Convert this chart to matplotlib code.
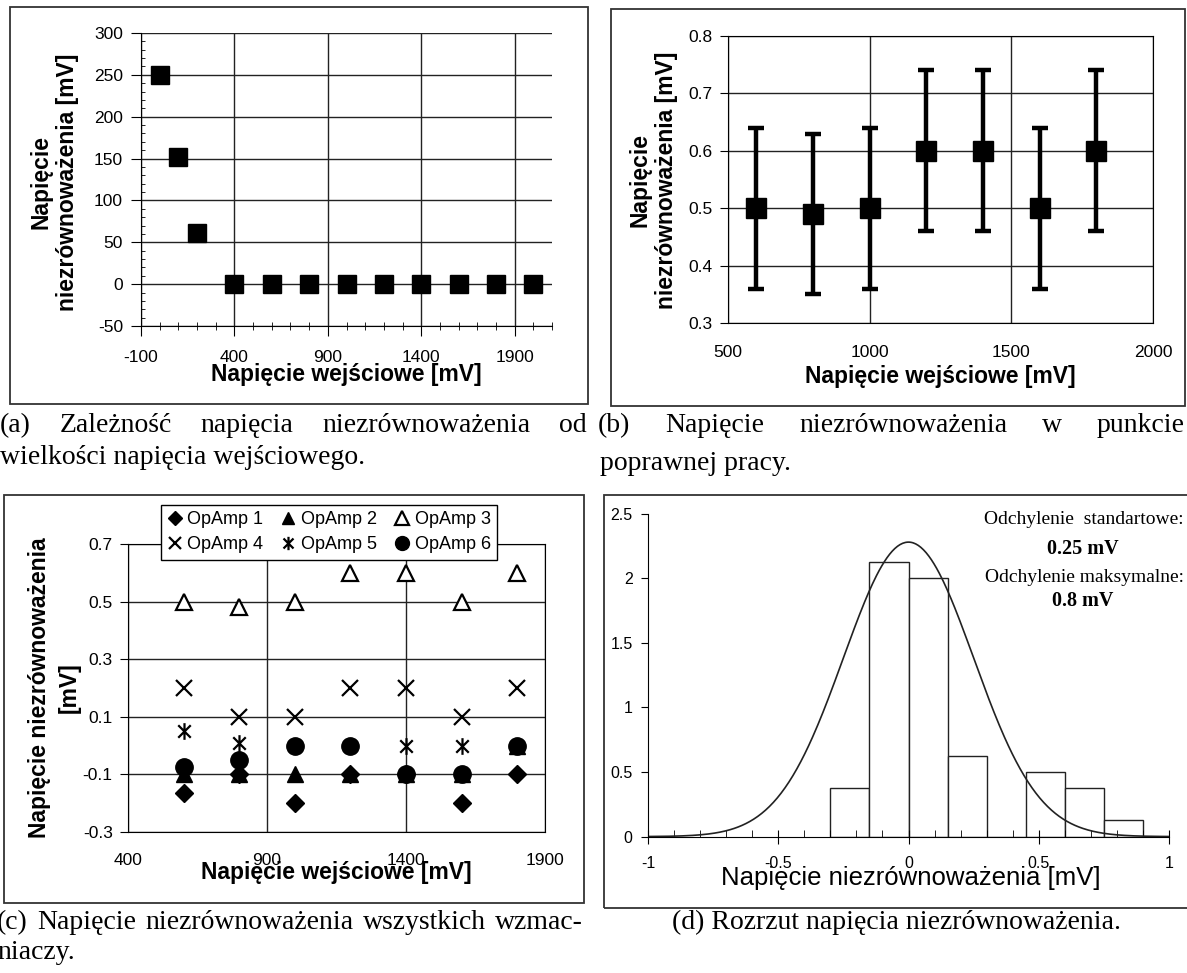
import numpy as np
import matplotlib
matplotlib.use("Agg")
import matplotlib.pyplot as plt
from matplotlib.patches import Rectangle
from matplotlib.path import Path

plt.rcParams['font.family'] = ['Liberation Sans', 'DejaVu Sans']
plt.rcParams['axes.unicode_minus'] = False

W, H = 1187, 973

# (a) offset vs. input voltage
a_x = [0, 100, 200, 400, 600, 800, 1000, 1200, 1400, 1600, 1800, 2000]
a_y = [250, 152, 61, 0, 0, 0, 0, 0, 0, 0, 0, 0]

# (b) offset in working range, with spread
b_x = [600, 800, 1000, 1200, 1400, 1600, 1800]
b_y = [0.50, 0.49, 0.50, 0.60, 0.60, 0.50, 0.60]
b_err = [0.14, 0.14, 0.14, 0.14, 0.14, 0.14, 0.14]

# (c) all amplifiers
c_x = [600, 800, 1000, 1200, 1400, 1600, 1800]
opamp1 = [-0.165, -0.10, -0.20, -0.10, -0.10, -0.20, -0.10]
opamp2 = [-0.10, -0.10, -0.10, -0.10, -0.10, -0.10, 0.0]
opamp3 = [0.50, 0.48, 0.50, 0.60, 0.60, 0.50, 0.60]
opamp4 = [0.20, 0.10, 0.10, 0.20, 0.20, 0.10, 0.20]
opamp5 = [0.05, 0.01, 0.0, 0.0, 0.0, 0.0, 0.0]
opamp6 = [-0.075, -0.05, 0.0, 0.0, -0.10, -0.10, 0.0]
opamp_labels = ["OpAmp 1", "OpAmp 2", "OpAmp 3", "OpAmp 4", "OpAmp 5", "OpAmp 6"]

# (d) histogram of offsets + fitted normal curve
d_left = [-0.30, -0.15, 0.00, 0.15, 0.30, 0.45, 0.60, 0.75]
d_height = [0.375, 2.125, 2.0, 0.625, 0.0, 0.5, 0.375, 0.125]
bin_w = 0.15
fit_amp, fit_mu, fit_sigma = 2.28, 0.0, 0.25

fig = plt.figure(figsize=(W / 100, H / 100), dpi=100)


def px_axes(l, t, r, b):
    return fig.add_axes([l / W, 1 - b / H, (r - l) / W, (b - t) / H])


def px_box(l, t, r, b):
    fig.add_artist(Rectangle((l / W, 1 - b / H), (r - l) / W, (b - t) / H,
                             transform=fig.transFigure, fill=False,
                             lw=1.3, ec='#333333'))


def caption_line(words, x0, x1, y, **kw):
    """Justified caption line (LaTeX look)."""
    texts = [fig.text(0, 1 - y / H, w, va='baseline', **kw) for w in words]
    r = fig.canvas.get_renderer()
    widths = [t.get_window_extent(r).width for t in texts]
    gap = (x1 - x0 - sum(widths)) / (len(words) - 1)
    x = x0
    for t, w in zip(texts, widths):
        t.set_x(x / W)
        x += w + gap


lab = dict(fontsize=16.5, fontweight='bold')
cap = dict(family=['Liberation Serif', 'DejaVu Serif'], fontsize=20)
tick_fs = 12.5

# ---------------- (a)
px_box(10, 7, 588, 404)
ax = px_axes(141, 33, 552, 326)
ax.plot(a_x, a_y, 's', color='black', ms=13.5, zorder=3, clip_on=False)
ax.set_xlim(-100, 2100)
ax.set_ylim(-50, 300)
ax.set_xticks(np.arange(-100, 2000, 500))
ax.set_xticks(np.arange(-100, 2101, 100), minor=True)
ax.set_yticks(np.arange(-50, 301, 50))
ax.set_yticks(np.arange(-50, 301, 10), minor=True)
ax.grid(True, which='major', color='#222222', lw=1)
ax.spines['top'].set_visible(False)
ax.spines['right'].set_visible(False)
ax.tick_params(axis='x', which='major', direction='out', length=7, labelsize=tick_fs, pad=10)
ax.tick_params(axis='y', which='major', direction='out', length=7, labelsize=tick_fs, pad=6)
ax.tick_params(axis='x', which='minor', direction='inout', length=6)
ax.tick_params(axis='y', which='minor', direction='in', length=3)
ax.set_xlabel("Napięcie wejściowe [mV]", va='center', **lab)
ax.xaxis.set_label_coords(0.5, -0.167)
ax.set_ylabel("Napięcie\nniezrównoważenia [mV]", va='center', linespacing=1.2, **lab)
ax.yaxis.set_label_coords(-0.21, 0.49)

# ---------------- (b)
px_box(611, 9, 1185, 406)
ax = px_axes(728, 36, 1153, 323)
ax.errorbar(b_x, b_y, yerr=b_err, fmt='s', color='black', ms=14,
            elinewidth=3.2, capsize=6, capthick=3.2, zorder=3)
ax.set_xlim(500, 2000)
ax.set_ylim(0.3, 0.8)
ax.set_xticks([500, 1000, 1500, 2000])
ax.set_yticks([0.3, 0.4, 0.5, 0.6, 0.7, 0.8])
ax.grid(True, color='#222222', lw=1)
ax.tick_params(axis='x', length=0, labelsize=tick_fs, pad=16)
ax.tick_params(axis='y', direction='out', length=6, labelsize=tick_fs, pad=5)
ax.set_xlabel("Napięcie wejściowe [mV]", va='center', **lab)
ax.xaxis.set_label_coords(0.5, -0.185)
ax.set_ylabel("Napięcie\nniezrównoważenia [mV]", va='center', linespacing=1.2, **lab)
ax.yaxis.set_label_coords(-0.176, 0.498)

# ---------------- (c)
px_box(4, 495, 584, 903)
ax = px_axes(128, 544, 545, 832)
asterisk = Path([(0, -1), (0, 1), (-0.75, -0.75), (0.75, 0.75), (-0.75, 0.75), (0.75, -0.75)],
                [Path.MOVETO, Path.LINETO] * 3)
styles = [
    dict(marker='D', ms=9.5, mfc='black', mec='black'),
    dict(marker='^', ms=11, mfc='black', mec='black'),
    dict(marker='^', ms=12, mfc='white', mec='black', mew=1.6),
    dict(marker='x', ms=11, mec='black', mew=1.6),
    dict(marker=asterisk, ms=12, mfc='none', mec='black', mew=1.6),
    dict(marker='o', ms=12.5, mfc='black', mec='black'),
]
series = [opamp1, opamp2, opamp3, opamp4, opamp5, opamp6]
for i, (vals, st, name) in enumerate(zip(series, styles, opamp_labels)):
    ax.plot(c_x, vals, ls='none', label=name, zorder=3 + i, **st)
ax.set_xlim(400, 1900)
ax.set_ylim(-0.3, 0.7)
ax.set_xticks([400, 900, 1400, 1900])
ax.set_yticks([-0.3, -0.1, 0.1, 0.3, 0.5, 0.7])
ax.grid(True, color='#222222', lw=1)
ax.tick_params(axis='x', length=0, labelsize=tick_fs, pad=15)
ax.tick_params(axis='y', direction='out', length=6, labelsize=tick_fs, pad=5)
ax.set_xlabel("Napięcie wejściowe [mV]", va='center', **lab)
ax.xaxis.set_label_coords(0.5, -0.139)
ax.set_ylabel("Napięcie niezrównoważenia\n[mV]", va='center', linespacing=1.35, **lab)
ax.yaxis.set_label_coords(-0.177, 0.5)
# matplotlib fills legend columns first; reorder so rows read 1-2-3 / 4-5-6
handles, labels = ax.get_legend_handles_labels()
order = [0, 3, 1, 4, 2, 5]
leg = ax.legend([handles[i] for i in order], [labels[i] for i in order],
                ncol=3, loc='upper left', bbox_to_anchor=(161 / W, 1 - 505 / H),
                bbox_transform=fig.transFigure, frameon=True, fancybox=False,
                edgecolor='black', framealpha=1, fontsize=13, handlelength=0.8,
                handletextpad=0.3, columnspacing=1.0, borderpad=0.35,
                labelspacing=0.45, markerscale=0.8, borderaxespad=0)
leg.get_frame().set_linewidth(1)
leg.set_zorder(20)

# ---------------- (d)
px_box(604, 495, 1195, 908)
ax = px_axes(648, 513.7, 1169, 836.6)
ax.bar(d_left, d_height, width=bin_w, align='edge', facecolor='white',
       edgecolor='#222222', lw=1)
xs = np.linspace(-1, 1, 400)
ax.plot(xs, fit_amp * np.exp(-(xs - fit_mu) ** 2 / (2 * fit_sigma ** 2)),
        color='#222222', lw=1.2)
ax.set_xlim(-1, 1)
ax.set_ylim(0, 2.5)
ax.spines['top'].set_visible(False)
ax.spines['right'].set_visible(False)
ax.set_xticks([-1, -0.5, 0, 0.5, 1])
ax.set_xticklabels(['-1', '-0.5', '0', '0.5', '1'])
ax.set_xticks(np.arange(-1, 1.001, 0.1), minor=True)
ax.set_yticks([0, 0.5, 1, 1.5, 2, 2.5])
ax.set_yticklabels(['0', '0.5', '1', '1.5', '2', '2.5'])
ax.tick_params(axis='x', which='major', direction='inout', length=10, labelsize=11.5, pad=9)
ax.tick_params(axis='x', which='minor', direction='in', length=5)
ax.tick_params(axis='y', direction='out', length=5, labelsize=11.5, pad=6)
ax.set_xlabel("Napięcie niezrównoważenia [mV]", va='center', fontsize=18.5)
ax.xaxis.set_label_coords(0.505, -0.128)

ser = ['Liberation Serif', 'DejaVu Serif']
fig.text(1184 / W, 1 - 519 / H, "Odchylenie  standartowe:", ha='right', va='center',
         family=ser, fontsize=14)
fig.text(1083 / W, 1 - 549 / H, "0.25 mV", ha='center', va='center',
         family=ser, fontsize=14.5, fontweight='bold')
fig.text(1184 / W, 1 - 578 / H, "Odchylenie maksymalne:", ha='right', va='center',
         family=ser, fontsize=14)
fig.text(1083 / W, 1 - 601 / H, "0.8 mV", ha='center', va='center',
         family=ser, fontsize=14.5, fontweight='bold')

# ---------------- captions
caption_line(["(a)", "Zależność", "napięcia", "niezrównoważenia", "od"], 0, 587, 432, **cap)
fig.text(0, 1 - 464 / H, "wielkości napięcia wejściowego.", va='baseline', **cap)
caption_line(["(b)", "Napięcie", "niezrównoważenia", "w", "punkcie"], 598, 1185, 432, **cap)
fig.text(600 / W, 1 - 470 / H, "poprawnej pracy.", va='baseline', **cap)
caption_line(["(c)", "Napięcie", "niezrównoważenia", "wszystkich", "wzmac-"], -3, 583, 929, **cap)
fig.text(-3 / W, 1 - 959 / H, "niaczy.", va='baseline', **cap)
fig.text(896 / W, 1 - 929 / H, "(d) Rozrzut napięcia niezrównoważenia.", ha='center',
         va='baseline', **cap)

fig.savefig("out.png", dpi=100, facecolor='white')
